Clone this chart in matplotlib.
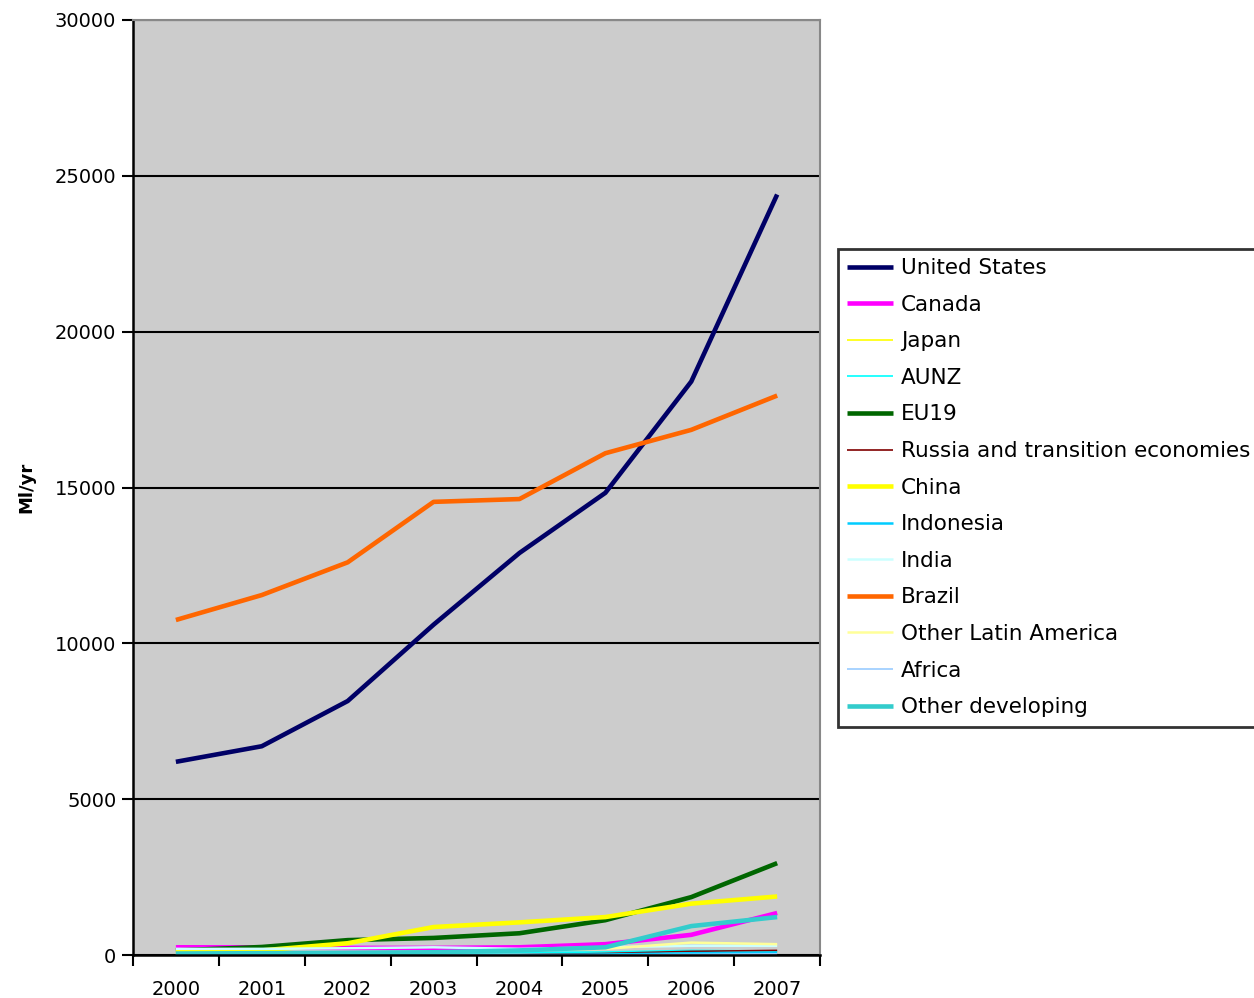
import matplotlib.pyplot as plt
from matplotlib.ticker import FixedLocator, NullFormatter

years = ["2000", "2001", "2002", "2003", "2004", "2005", "2006", "2007"]

united_states = [6200, 6700, 8150, 10600, 12900, 14830, 18400, 24400]
canada = [250, 250, 230, 230, 250, 350, 650, 1350]
japan = [0, 0, 0, 0, 0, 30, 60, 90]
aunz = [50, 50, 60, 70, 80, 100, 150, 130]
eu19 = [150, 260, 480, 550, 700, 1120, 1860, 2950]
russia = [0, 0, 0, 0, 10, 50, 120, 150]
china = [100, 150, 380, 900, 1050, 1220, 1650, 1880]
indonesia = [0, 0, 0, 0, 0, 20, 60, 80]
india = [200, 200, 220, 250, 200, 250, 300, 300]
brazil = [10750, 11550, 12600, 14540, 14630, 16100, 16850, 17950]
other_latin_america = [50, 60, 80, 100, 150, 200, 400, 350]
africa = [0, 0, 0, 0, 0, 0, 20, 40]
other_developing = [50, 60, 70, 90, 150, 250, 930, 1220]

series = [
    ("United States", united_states, "#000066", 3.3),
    ("Canada", canada, "#FF00FF", 3.3),
    ("Japan", japan, "#FFFF00", 1.2),
    ("AUNZ", aunz, "#00FFFF", 1.2),
    ("EU19", eu19, "#006600", 3.3),
    ("Russia and transition economies", russia, "#800000", 1.2),
    ("China", china, "#FFFF00", 3.3),
    ("Indonesia", indonesia, "#00CCFF", 1.8),
    ("India", india, "#CCFFFF", 1.8),
    ("Brazil", brazil, "#FF6600", 3.3),
    ("Other Latin America", other_latin_america, "#FFFF99", 1.8),
    ("Africa", africa, "#99CCFF", 1.2),
    ("Other developing", other_developing, "#33CCCC", 3.3),
]

plt.rcParams["font.family"] = ["DejaVu Sans"]

fig = plt.figure(figsize=(12.54, 9.98), dpi=100)
ax = fig.add_axes([0.106, 0.043, 0.548, 0.937])
ax.set_facecolor("#CCCCCC")

x = list(range(len(years)))
for name, vals, color, lw in series:
    ax.plot(x, vals, color=color, lw=lw, label=name, solid_capstyle="butt",
            solid_joinstyle="round")

ax.set_xlim(-0.5, len(years) - 0.5)
ax.set_ylim(0, 30000)

# category axis: tick marks between categories, labels centred under them
ax.xaxis.set_major_locator(FixedLocator([i - 0.5 for i in range(len(years) + 1)]))
ax.xaxis.set_major_formatter(NullFormatter())
ax.xaxis.set_minor_locator(FixedLocator(x))
ax.set_xticklabels(years, minor=True)
ax.tick_params(axis="x", which="major", length=8, width=1.5, direction="out")
ax.tick_params(axis="x", which="minor", length=0, labelsize=14, pad=18)

ax.set_yticks(range(0, 30001, 5000))
ax.tick_params(axis="y", length=8, width=1.5, direction="out", labelsize=14, pad=4)
ax.yaxis.grid(True, color="black", lw=1.5)
ax.set_axisbelow(True)

ax.spines["left"].set_linewidth(1.8)
ax.spines["bottom"].set_linewidth(1.8)
ax.spines["top"].set_color("#888888")
ax.spines["right"].set_color("#888888")
ax.spines["right"].set_linewidth(1.5)
ax.spines["top"].set_linewidth(1.5)

ax.set_ylabel("Ml/yr", fontsize=13, fontweight="bold", labelpad=14)

leg = fig.legend(loc="upper left", bbox_to_anchor=(0.668, 0.751),
                 fontsize=15.5, frameon=True, fancybox=False,
                 handlelength=2.1, handletextpad=0.4, labelspacing=0.77,
                 borderpad=0.45, borderaxespad=0)
leg.get_frame().set_edgecolor("black")
leg.get_frame().set_linewidth(2)
leg.get_frame().set_facecolor("white")

fig.savefig("out.png", dpi=100)
